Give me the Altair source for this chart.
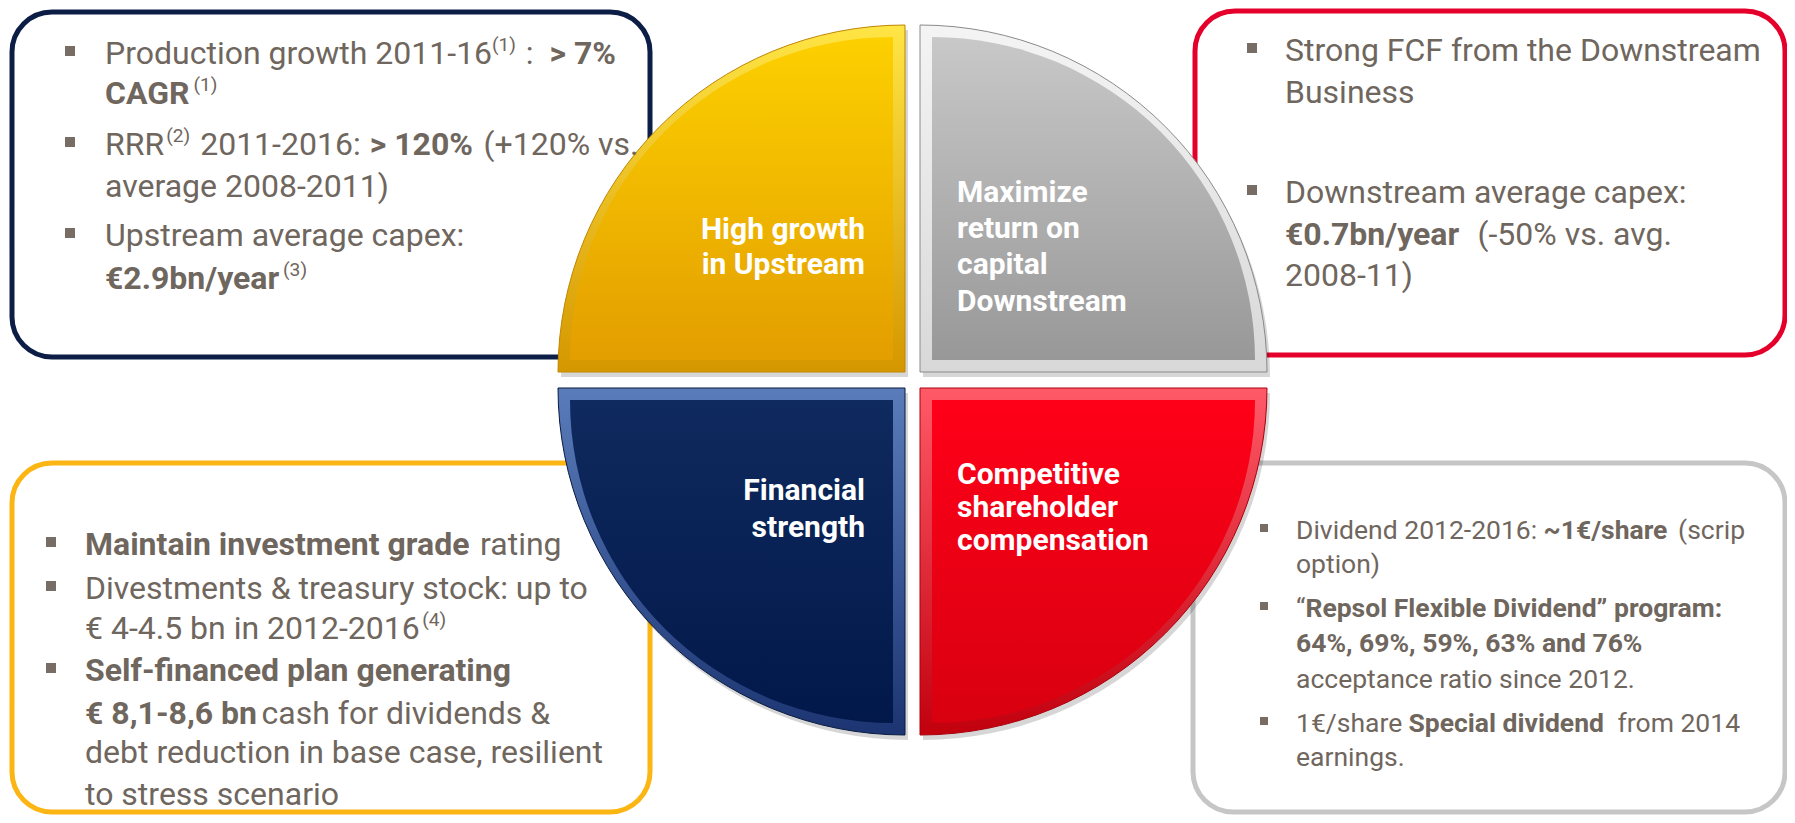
import altair as alt
import pandas as pd

# ---------------- content ----------------
QUADS = ["upstream", "downstream", "shareholder", "financial"]
QUAD_LABELS = {
    "upstream": ["High growth", "in Upstream"],
    "downstream": ["Maximize", "return on", "capital", "Downstream"],
    "financial": ["Financial", "strength"],
    "shareholder": ["Competitive", "shareholder", "compensation"],
}

# each line: (bullet?, [(text, style)])  style: r=regular, b=bold, s=superscript
TL_LINES = [
    (True, [("Production growth 2011-16", "r"), ("(1)", "s"), (" :  ", "r"), ("> 7%", "b")]),
    (False, [("CAGR", "b"), ("(1)", "s")]),
    (True, [("RRR", "r"), ("(2)", "s"), (" 2011-2016: ", "r"), ("> 120%", "b"), (" (+120% vs.", "r")]),
    (False, [("average 2008-2011)", "r")]),
    (True, [("Upstream average capex:", "r")]),
    (False, [("€2.9bn/year", "b"), ("(3)", "s")]),
]
TR_LINES = [
    (True, [("Strong FCF from the Downstream", "r")]),
    (False, [("Business", "r")]),
    (True, [("Downstream average capex:", "r")]),
    (False, [("€0.7bn/year", "b"), ("  (-50% vs. avg.", "r")]),
    (False, [("2008-11)", "r")]),
]
BL_LINES = [
    (True, [("Maintain investment grade", "b"), (" rating", "r")]),
    (True, [("Divestments & treasury stock: up to", "r")]),
    (False, [("€ 4-4.5 bn in 2012-2016", "r"), ("(4)", "s")]),
    (True, [("Self-financed plan generating", "b")]),
    (False, [("€ 8,1-8,6 bn", "b"), (" cash for dividends &", "r")]),
    (False, [("debt reduction in base case, resilient", "r")]),
    (False, [("to stress scenario", "r")]),
]
BR_LINES = [
    (True, [("Dividend 2012-2016: ", "r"), ("~1€/share", "b"), (" (scrip", "r")]),
    (False, [("option)", "r")]),
    (True, [("“", "r"), ("Repsol Flexible Dividend” program:", "b")]),
    (False, [("64%, 69%, 59%, 63% and 76%", "b")]),
    (False, [("acceptance ratio since 2012.", "r")]),
    (True, [("1€/share ", "r"), ("Special dividend", "b"), ("  from 2014", "r")]),
    (False, [("earnings.", "r")]),
]

# ---------------- layout (page pixel coordinates) ----------------
W, H = 1779, 807
XS = alt.Scale(domain=[8, 8 + W], nice=False, zero=False)
YS = alt.Scale(domain=[8 + H, 8], nice=False, zero=False)

TEXT_COL = "#6f665e"
BULLET_COL = "#776d64"

boxes = pd.DataFrame([
    dict(x=12, x2=650, y=12, y2=357, col="#0c1e45"),
    dict(x=1195, x2=1785, y=11, y2=355, col="#e4002b"),
    dict(x=12, x2=650, y=463, y2=812, col="#fbb614"),
    dict(x=1193, x2=1785, y=463, y2=812, col="#c6c6c6"),
])

R = 347
D = 12
PI = 3.141592653589793
quad_geo = pd.DataFrame([
    dict(q="upstream", cx=905, cy=372, sx=-1, sy=-1, t0=1.5 * PI, t1=2 * PI),
    dict(q="downstream", cx=920, cy=372, sx=1, sy=-1, t0=0.0, t1=0.5 * PI),
    dict(q="shareholder", cx=920, cy=388, sx=1, sy=1, t0=0.5 * PI, t1=PI),
    dict(q="financial", cx=905, cy=388, sx=-1, sy=1, t0=PI, t1=1.5 * PI),
])
quad_geo["ix"] = quad_geo.cx + quad_geo.sx * D
quad_geo["iy"] = quad_geo.cy + quad_geo.sy * D
quad_geo["shx"] = quad_geo.cx + 3
quad_geo["shy"] = quad_geo.cy + 5

QUAD_STYLE = {
    "upstream": dict(outer=("#ffe545", "#d59700"), inner=("#fdd000", "#e39e00"), edge="#c08600"),
    "downstream": dict(outer=("#f4f4f4", "#d8d8d8"), inner=("#c8c8c8", "#989898"), edge="#8a8a8a"),
    "shareholder": dict(outer=("#ff5a68", "#c2000e"), inner=("#ff0019", "#d8000f"), edge="#a8000c"),
    "financial": dict(outer=("#5a7cba", "#1c3472"), inner=("#0f2a5e", "#02184a"), edge="#081a40"),
}

LABEL_POS = {
    "upstream": dict(x=865, ys=[230, 265], align="right"),
    "downstream": dict(x=957, ys=[193, 229, 265, 302], align="left"),
    "financial": dict(x=865, ys=[491, 528], align="right"),
    "shareholder": dict(x=957, ys=[475, 508, 541], align="left"),
}

BOX_LAYOUT = [
    dict(lines=TL_LINES, x0=105, ys=[54, 94, 145, 187, 236, 279], size=32, bx=70, bsize=100),
    dict(lines=TR_LINES, x0=1285, ys=[51, 93, 193, 235, 276], size=32, bx=1252, bsize=100),
    dict(lines=BL_LINES, x0=85, ys=[545, 589, 629, 671, 714, 753, 795], size=32, bx=51, bsize=100),
    dict(lines=BR_LINES, x0=1296, ys=[531, 565, 609, 644, 680, 724, 758], size=26.5, bx=1264, bsize=64),
]

# approximate Roboto advance widths (units per 2048 em)
ADV = {' ': 507, '%': 1465, '&': 1274, '(': 684, ')': 696, '+': 1133, ',': 393, '-': 552,
       '.': 527, '/': 843, ':': 484, '>': 1064, '~': 1359, '€': 1150, '“': 720, '”': 720,
       'A': 1336, 'B': 1275, 'C': 1333, 'D': 1343, 'E': 1164, 'F': 1132, 'G': 1395, 'H': 1427,
       'I': 559, 'J': 1133, 'K': 1283, 'L': 1100, 'M': 1751, 'N': 1427, 'O': 1377, 'P': 1292,
       'Q': 1377, 'R': 1261, 'S': 1218, 'T': 1222, 'U': 1298, 'V': 1303, 'W': 1779, 'X': 1284,
       'Y': 1230, 'Z': 1227, 'a': 1087, 'b': 1122, 'c': 1046, 'd': 1126, 'e': 1058, 'f': 693,
       'g': 1120, 'h': 1101, 'i': 486, 'j': 477, 'k': 1014, 'l': 486, 'm': 1752, 'n': 1103,
       'o': 1139, 'p': 1122, 'q': 1134, 'r': 677, 's': 1031, 't': 654, 'u': 1100, 'v': 968,
       'w': 1502, 'x': 992, 'y': 945, 'z': 992}
for dgt in "0123456789":
    ADV[dgt] = 1150


def text_width(s, size, bold):
    w = sum(ADV.get(ch, 1100) for ch in s) / 2048.0 * size
    return w * (1.045 if bold else 1.01)


seg_rows, bullet_rows = [], []
for box in BOX_LAYOUT:
    base = box["size"]
    for (bul, segs), y in zip(box["lines"], box["ys"]):
        if bul:
            bullet_rows.append(dict(x=box["bx"], y=y - 3, s=box["bsize"]))
        cur = box["x0"]
        for txt, st in segs:
            fs = base * 0.6 if st == "s" else base
            bold = st == "b"
            if st == "s":
                cur += 1.5
            lead = len(txt) - len(txt.lstrip(" "))
            xpos = cur + text_width(" " * lead, fs, bold)
            ypos = y - base * 0.27 if st == "s" else y
            seg_rows.append(dict(x=xpos, y=ypos, text=txt.strip(), size=fs, st=st))
            cur += text_width(txt, fs, bold)
            if st == "s":
                cur += 2
segs_df = pd.DataFrame(seg_rows)
bullets_df = pd.DataFrame(bullet_rows)

label_rows = []
for q in QUADS:
    lp = LABEL_POS[q]
    for line, y in zip(QUAD_LABELS[q], lp["ys"]):
        label_rows.append(dict(q=q, x=lp["x"], y=y, text=line, align=lp["align"]))
labels_df = pd.DataFrame(label_rows)


def grad(c0, c1):
    return alt.LinearGradient(
        gradient="linear",
        stops=[alt.GradientStop(color=c0, offset=0), alt.GradientStop(color=c1, offset=1)],
        x1=0, x2=0, y1=0, y2=1,
    )


layers = []
# rounded boxes
layers.append(
    alt.Chart(boxes).mark_rect(cornerRadius=40, fill="white", strokeWidth=5).encode(
        x=alt.X("x:Q", scale=XS, axis=None),
        x2="x2:Q",
        y=alt.Y("y:Q", scale=YS, axis=None),
        y2="y2:Q",
        stroke=alt.Stroke("col:N", scale=None),
    )
)

# quadrant shadows
layers.append(
    alt.Chart(quad_geo).mark_arc(radius=R, fill="#000000", opacity=0.16).encode(
        x=alt.X("shx:Q", scale=XS, axis=None),
        y=alt.Y("shy:Q", scale=YS, axis=None),
        theta=alt.Theta("t0:Q", scale=None, stack=False),
        theta2="t1:Q",
    )
)

for q in QUADS:
    stl = QUAD_STYLE[q]
    base = alt.Chart(quad_geo).transform_filter(alt.datum.q == q)
    layers.append(
        base.mark_arc(radius=R, fill=grad(*stl["outer"]), stroke=stl["edge"], strokeWidth=1).encode(
            x=alt.X("cx:Q", scale=XS, axis=None),
            y=alt.Y("cy:Q", scale=YS, axis=None),
            theta=alt.Theta("t0:Q", scale=None, stack=False),
            theta2="t1:Q",
        )
    )
    layers.append(
        base.mark_arc(radius=R - 2 * D, fill=grad(*stl["inner"])).encode(
            x=alt.X("ix:Q", scale=XS, axis=None),
            y=alt.Y("iy:Q", scale=YS, axis=None),
            theta=alt.Theta("t0:Q", scale=None, stack=False),
            theta2="t1:Q",
        )
    )

# quadrant labels
for al in ["left", "right"]:
    layers.append(
        alt.Chart(labels_df).transform_filter(alt.datum.align == al).mark_text(
            font="Roboto", fontWeight="bold", fontSize=30, color="white", align=al, baseline="middle"
        ).encode(
            x=alt.X("x:Q", scale=XS, axis=None),
            y=alt.Y("y:Q", scale=YS, axis=None),
            text="text:N",
        )
    )

# bullets
layers.append(
    alt.Chart(bullets_df).mark_square(color=BULLET_COL, opacity=1, filled=True).encode(
        x=alt.X("x:Q", scale=XS, axis=None),
        y=alt.Y("y:Q", scale=YS, axis=None),
        size=alt.Size("s:Q", scale=None),
    )
)

# box texts
for st, wt in [("r", "normal"), ("s", "normal"), ("b", "bold")]:
    layers.append(
        alt.Chart(segs_df).transform_filter(alt.datum.st == st).mark_text(
            font="Roboto", fontWeight=wt, color=TEXT_COL, align="left", baseline="middle"
        ).encode(
            x=alt.X("x:Q", scale=XS, axis=None),
            y=alt.Y("y:Q", scale=YS, axis=None),
            text="text:N",
            size=alt.Size("size:Q", scale=None),
        )
    )

chart = alt.layer(*layers).properties(
    width=W, height=H, padding=0, autosize=alt.AutoSizeParams(type="none"), background="white"
).configure_view(stroke=None)

chart.save("out.html", embed_options={"renderer": "svg", "actions": False})
